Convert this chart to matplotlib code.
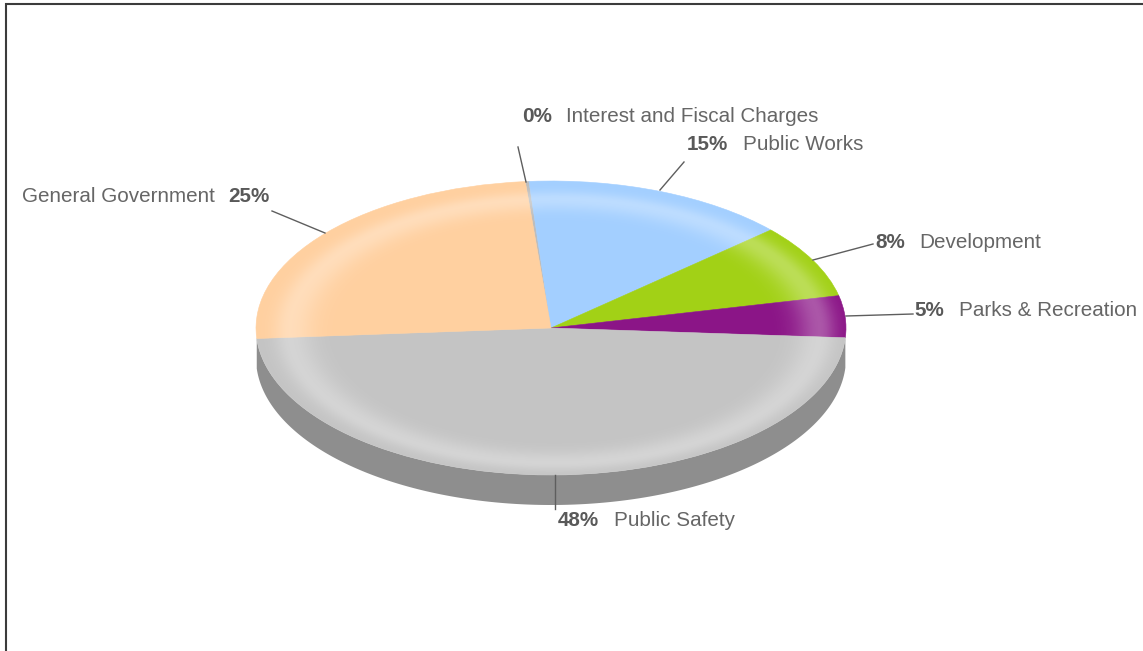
import numpy as np
import matplotlib

matplotlib.use("Agg")
import matplotlib.pyplot as plt
from matplotlib.patches import Ellipse

plt.rcParams["font.family"] = ["Liberation Sans", "DejaVu Sans"]

W, H = 1143, 651

categories = [
    "Interest and Fiscal Charges",
    "Public Works",
    "Development",
    "Parks & Recreation",
    "Public Safety",
    "General Government",
]
shares = [0.2, 14.6, 8.1, 4.6, 47.9, 24.8]
colors = ["#bdbdbd", "#a3cfff", "#a2d116", "#8b1587", "#c4c4c4", "#ffd0a0"]
side_color = "#8e8e8e"

# label layout in pixels: percent x, name x, baseline centre y
pct_x = [522, 687, 875, 914, 558, 228]
name_x = [566, 743, 919, 959, 614, 22]
label_y = [117, 144, 243, 311, 521, 197]
leaders = [
    ((518, 147), (526, 182)),
    ((684, 162), (660, 190)),
    ((873, 244), (813, 260)),
    ((913, 314), (846, 316)),
    ((555, 475), (555, 509)),
    ((272, 211), (325, 233)),
]

# bounding box of the pie top, in pixels
left, right, top, bottom = 256, 846, 181, 475
depth = 30 / ((bottom - top) / 2)
start_angle = 95.0

fig = plt.figure(figsize=(W / 100, H / 100), dpi=100, facecolor="white")

ax = fig.add_axes(
    [left / W, 1 - bottom / H, (right - left) / W, (bottom - top) / H]
)
wedges, _ = ax.pie(
    shares,
    colors=colors,
    startangle=start_angle,
    counterclock=False,
    radius=1,
    wedgeprops={"linewidth": 0.4},
)
for wedge, color in zip(wedges, colors):
    wedge.set_edgecolor(color)
    wedge.set_zorder(3)
    wedge.set_clip_on(False)
ax.set_aspect("auto")
ax.set_xlim(-1, 1)
ax.set_ylim(-1, 1)
ax.axis("off")

# rim of the disc, only the front slice shows it
safety = wedges[categories.index("Public Safety")]
t = np.radians(np.linspace(safety.theta1, safety.theta2, 300))
rim_x = np.cos(t)
rim_y = np.sin(t)
ax.fill(
    np.r_[rim_x, rim_x[::-1]],
    np.r_[rim_y, rim_y[::-1] - depth],
    color=side_color,
    lw=0,
    zorder=2,
    clip_on=False,
)

# soft bright ring over the slices
gx, gy = np.meshgrid(np.linspace(-1, 1, 800), np.linspace(-1, 1, 500))
ring = np.hypot((gx - 0.013) / 0.9, (gy + 0.02) / 0.9)
alpha = np.where(
    ring < 1,
    0.28 * np.exp(-(((ring - 1) / 0.09) ** 2)),
    0.28 * np.exp(-(((ring - 1) / 0.06) ** 2)),
)
glow = np.ones(gx.shape + (4,))
glow[..., 3] = alpha
img = ax.imshow(
    glow, extent=(-1, 1, -1, 1), origin="lower", aspect="auto", zorder=4,
    interpolation="bilinear",
)
img.set_clip_path(Ellipse((0, 0), 2, 2, transform=ax.transData))

# overlay in pixel coordinates for frame, leaders and labels
over = fig.add_axes([0, 0, 1, 1], facecolor="none")
over.set_xlim(0, W)
over.set_ylim(H, 0)
over.axis("off")

over.plot([6, 6, W], [H, 3.5, 3.5], color="#3c3c3c", lw=1.5, solid_joinstyle="miter")

for (a, b) in leaders:
    over.plot([a[0], b[0]], [a[1], b[1]], color="#5e5e5e", lw=1.0, zorder=6)

for name, share, px, nx, y in zip(categories, shares, pct_x, name_x, label_y):
    over.text(px, y, f"{share:.0f}%", color="#595959", fontsize=14.85,
              fontweight="bold", va="center", ha="left", zorder=7)
    over.text(nx, y, name, color="#666666", fontsize=14.85,
              va="center", ha="left", zorder=7)

fig.savefig("out.png", dpi=100, facecolor="white")
